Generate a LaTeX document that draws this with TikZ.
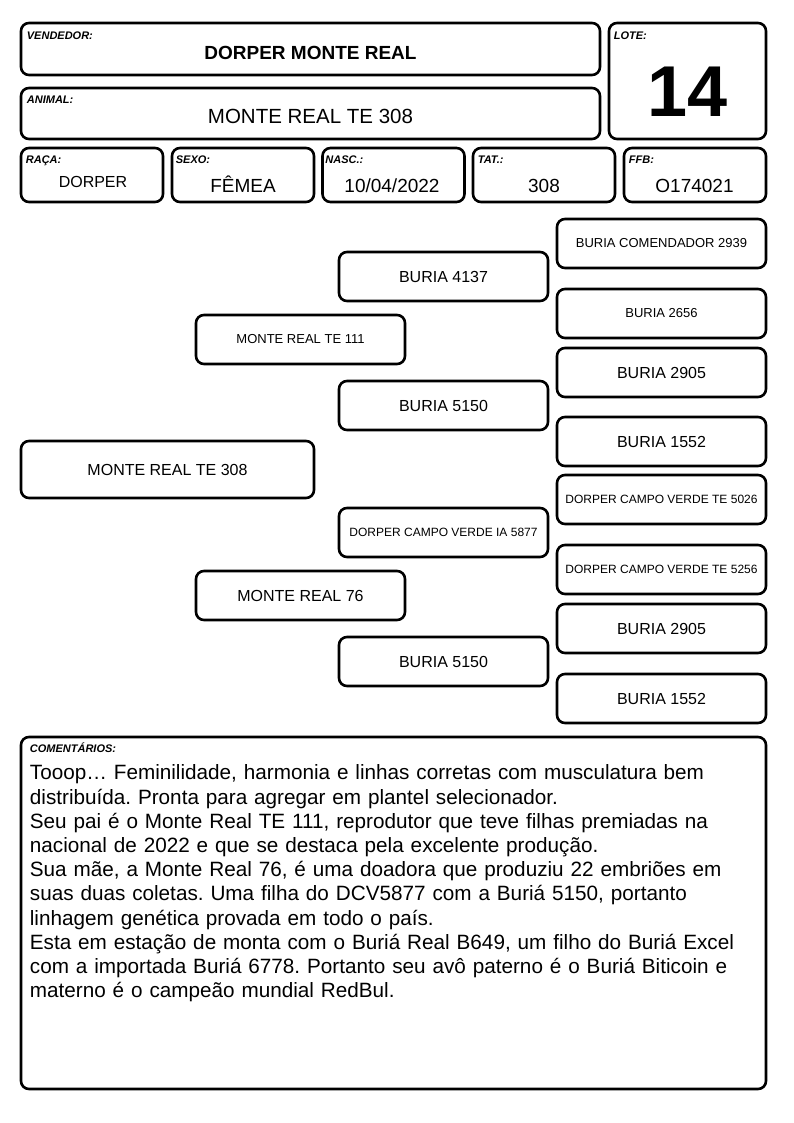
\documentclass[tikz,border=0pt]{standalone}
\usepackage{fontspec}
\setmainfont{Liberation Sans}
\usetikzlibrary{positioning}

\newcommand{\setpx}[1]{\fontsize{#1}{1.2\dimexpr#1pt\relax}\selectfont}

\begin{document}
\frenchspacing
\begin{tikzpicture}[
    x=1pt, y=-1pt,
    box/.style ={draw, line width=2.6pt, rounded corners=8pt, inner sep=0pt},
    tag/.style ={anchor=west, inner sep=0pt, font=\setpx{11}\bfseries\itshape},
    val/.style ={inner sep=0pt, text depth=0pt, font=\setpx{19}},
    cell/.style={box, minimum width=142pt, minimum height=54pt},
    ped/.style ={box, minimum width=209pt, minimum height=49pt, font=\setpx{16}},
    pedsm/.style={ped, font=\setpx{13}},
    pedxs/.style={ped, font=\setpx{12}}
  ]
  \fill[white] (0,0) rectangle (794,1123);
  \useasboundingbox (0,0) rectangle (794,1123);

  % ---- header ----------------------------------------------------------
  \node[box, minimum width=579pt, minimum height=52pt] (vend) at (310.5, 49) {};
  \node[tag] (vendt) at ([xshift=7pt, yshift=-14pt]vend.north west) {VENDEDOR:};
  \node[val, font=\setpx{19}\bfseries] (vendv) at (310.5, 53) {DORPER MONTE REAL};

  \node[box, minimum width=579pt, minimum height=51pt] (anim) at (310.5, 113.5) {};
  \node[tag] (animt) at ([xshift=7pt, yshift=-13pt]anim.north west) {ANIMAL:};
  \node[val, font=\setpx{20.5}] (animv) at (310.5, 116) {MONTE REAL TE 308};

  \node[box, minimum width=157pt, minimum height=116pt] (lote) at (687.5, 81) {};
  \node[tag] (lotet) at ([xshift=6pt, yshift=-14pt]lote.north west) {LOTE:};
  \node[val, font=\setpx{72}\bfseries] (lotev) at (687.5, 92) {14};

  % ---- data row --------------------------------------------------------
  \node[cell] (raca) at (92,    175) {};
  \node[cell] (sexo) at (243,   175) {};
  \node[cell] (nasc) at (393.5, 175) {};
  \node[cell] (tat)  at (544,   175) {};
  \node[cell] (ffb)  at (695,   175) {};

  \node[tag] at ([xshift=6pt, yshift=-14pt]raca.north west) {RAÇA:};
  \node[tag] at ([xshift=5pt, yshift=-13.5pt]sexo.north west) {SEXO:};
  \node[tag] at ([xshift=4pt, yshift=-13.5pt]nasc.north west) {NASC.:};
  \node[tag] at ([xshift=6pt, yshift=-13.5pt]tat.north west)  {TAT.:};
  \node[tag] at ([xshift=6pt, yshift=-13.5pt]ffb.north west)  {FFB:};

  \node[val, font=\setpx{16}] (racav) at (93,    182) {DORPER};
  \node[val] (sexov) at (243,   184) {FÊMEA};
  \node[val] (nascv) at (392,   186) {10/04/2022};
  \node[val] (tatv)  at (544,   186) {308};
  \node[val] (ffbv)  at (694.5, 186) {O174021};

  % ---- pedigree --------------------------------------------------------
  \node[box, minimum width=293pt, minimum height=57pt, font=\setpx{16}]
        (root) at (167.5, 469.5) {MONTE REAL TE 308};

  \node[pedsm] (pai) at (300.5, 339.5) {MONTE REAL TE 111};
  \node[ped]   (mae) at (300.5, 595.5) {MONTE REAL 76};

  \node[ped]   (avp)  at (443.5, 276.5) {BURIA 4137};
  \node[ped]   (avap) at (443.5, 405.5) {BURIA 5150};
  \node[pedxs] (avm)  at (443.5, 532.5) {DORPER CAMPO VERDE IA 5877};
  \node[ped]   (avam) at (443.5, 661.5) {BURIA 5150};

  \node[pedsm] (b1) at (661.5, 243.5) {BURIA COMENDADOR 2939};
  \node[pedsm] (b2) at (661.5, 313.5) {BURIA 2656};
  \node[ped]   (b3) at (661.5, 372.5) {BURIA 2905};
  \node[ped]   (b4) at (661.5, 441.5) {BURIA 1552};
  \node[pedxs] (b5) at (661.5, 499.5) {DORPER CAMPO VERDE TE 5026};
  \node[pedxs] (b6) at (661.5, 569.5) {DORPER CAMPO VERDE TE 5256};
  \node[ped]   (b7) at (661.5, 628.5) {BURIA 2905};
  \node[ped]   (b8) at (661.5, 698.5) {BURIA 1552};

  % ---- comments --------------------------------------------------------
  \node[box, minimum width=745pt, minimum height=352pt] (com) at (393.5, 913) {};
  \node[tag] (comt) at ([xshift=10pt, yshift=-12pt]com.north west) {COMENTÁRIOS:};
  \node[anchor=north west, inner sep=0pt, text width=735pt, align=left,
        font=\fontsize{20.7}{24.2}\selectfont] (comv)
        at ([xshift=10pt, yshift=-29pt]com.north west)
  {Tooop… Feminilidade, harmonia e linhas corretas com musculatura bem\\
   distribuída. Pronta para agregar em plantel selecionador.\\
   Seu pai é o Monte Real TE 111, reprodutor que teve filhas premiadas na\\
   nacional de 2022 e que se destaca pela excelente produção.\\
   Sua mãe, a Monte Real 76, é uma doadora que produziu 22 embriões em\\
   suas duas coletas. Uma filha do DCV5877 com a Buriá 5150, portanto\\
   linhagem genética provada em todo o país.\\
   Esta em estação de monta com o Buriá Real B649, um filho do Buriá Excel\\
   com a importada Buriá 6778. Portanto seu avô paterno é o Buriá Biticoin e\\
   materno é o campeão mundial RedBul.};

\end{tikzpicture}
\end{document}
